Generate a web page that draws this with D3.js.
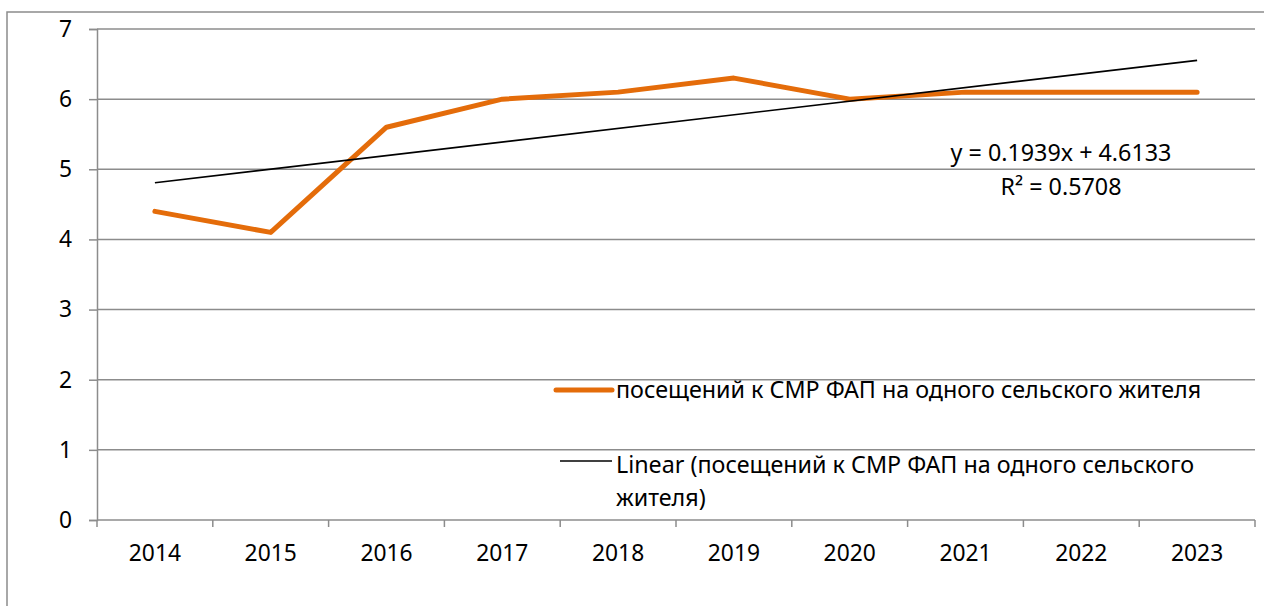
<!DOCTYPE html>
<html><head><meta charset="utf-8">
<script src="https://cdn.jsdelivr.net/npm/d3@7"></script>
<style>body{margin:0;background:#fff}svg{display:block}</style>
</head><body>
<svg id="c" width="1264" height="606"></svg>
<script>
const categories = ["2014","2015","2016","2017","2018","2019","2020","2021","2022","2023"];
const values = [4.4, 4.1, 5.6, 6.0, 6.1, 6.3, 6.0, 6.1, 6.1, 6.1];
const yTicks = [0,1,2,3,4,5,6,7];
const seriesName = "посещений к СМР ФАП на одного сельского жителя";
const trendLines = ["Linear (посещений к СМР ФАП на одного сельского", "жителя)"];
const equationLines = ["y = 0.1939x + 4.6133", "R² = 0.5708"];

const font = "'Noto Sans', 'Open Sans', sans-serif";
const fs = 23.3;
const svg = d3.select("#c");
const grid = "#8c8c8c";
svg.append("rect").attr("x",7).attr("y",12).attr("width",1300).attr("height",700)
  .attr("fill","none").attr("stroke",grid).attr("stroke-width",1.5);

const L=97, R=1255, T=29, B=520;
const x = d3.scaleBand().domain(categories).range([L,R]);
const y = d3.scaleLinear().domain([0,7]).range([B,T]);

// gridlines
svg.append("g").selectAll("line").data(yTicks.filter(d=>d>0)).join("line")
  .attr("x1",L).attr("x2",R).attr("y1",d=>y(d)).attr("y2",d=>y(d))
  .attr("stroke",grid).attr("stroke-width",1.5);

const yAxis = svg.append("g").attr("transform",`translate(${L},0)`)
  .call(d3.axisLeft(y).tickValues(yTicks).tickSize(8).tickPadding(17).tickFormat(d3.format("d")));
const xAxis = svg.append("g").attr("transform",`translate(0,${B})`)
  .call(d3.axisBottom(x).tickSize(0).tickPadding(25));
// x ticks at band edges
svg.append("g").attr("transform",`translate(0,${B})`).selectAll("line")
  .data(categories.concat(["end"])).join("line")
  .attr("x1",(d,i)=>L+i*x.step()).attr("x2",(d,i)=>L+i*x.step())
  .attr("y1",0).attr("y2",7).attr("stroke",grid).attr("stroke-width",1.5);
[yAxis,xAxis].forEach(a=>{
  a.select(".domain").attr("stroke",grid).attr("stroke-width",1.5);
  a.selectAll(".tick line").attr("stroke",grid).attr("stroke-width",1.5);
  a.selectAll("text").attr("font-family",font).attr("font-size",22.8).attr("fill","#000");
});
xAxis.select(".domain").attr("d",`M${L},0H${R}`);

const cx = d => x(d)+x.bandwidth()/2;
// series
svg.append("path").datum(values)
  .attr("d", d3.line().x((d,i)=>cx(categories[i])).y(d=>y(d)))
  .attr("fill","none").attr("stroke","#E46C0A").attr("stroke-width",5).attr("stroke-linejoin","round").attr("stroke-linecap","round");

// linear trend computed from data
const n = values.length, xs = d3.range(1,n+1);
const mx = d3.mean(xs), my = d3.mean(values);
const slope = d3.sum(xs.map((xi,i)=>(xi-mx)*(values[i]-my))) / d3.sum(xs.map(xi=>(xi-mx)**2));
const icpt = my - slope*mx;
svg.append("line")
  .attr("x1",cx(categories[0])).attr("y1",y(icpt+slope*1))
  .attr("x2",cx(categories[n-1])).attr("y2",y(icpt+slope*n))
  .attr("stroke","#000").attr("stroke-width",1.6);

// equation
svg.append("g").selectAll("text").data(equationLines).join("text")
  .attr("x",1061).attr("y",(d,i)=>161+i*34).attr("text-anchor","middle")
  .attr("font-family",font).attr("font-size",fs).text(d=>d);

// legend
svg.append("line").attr("x1",556).attr("x2",612).attr("y1",390).attr("y2",390)
  .attr("stroke","#E46C0A").attr("stroke-width",5).attr("stroke-linecap","round");
svg.append("text").attr("x",616).attr("y",398).attr("font-family",font).attr("font-size",fs).text(seriesName);
svg.append("line").attr("x1",560).attr("x2",612).attr("y1",461).attr("y2",461)
  .attr("stroke","#000").attr("stroke-width",1.6);
svg.append("g").selectAll("text").data(trendLines).join("text")
  .attr("x",616).attr("y",(d,i)=>473+i*33).attr("font-family",font).attr("font-size",fs).text(d=>d);
</script>
</body></html>
